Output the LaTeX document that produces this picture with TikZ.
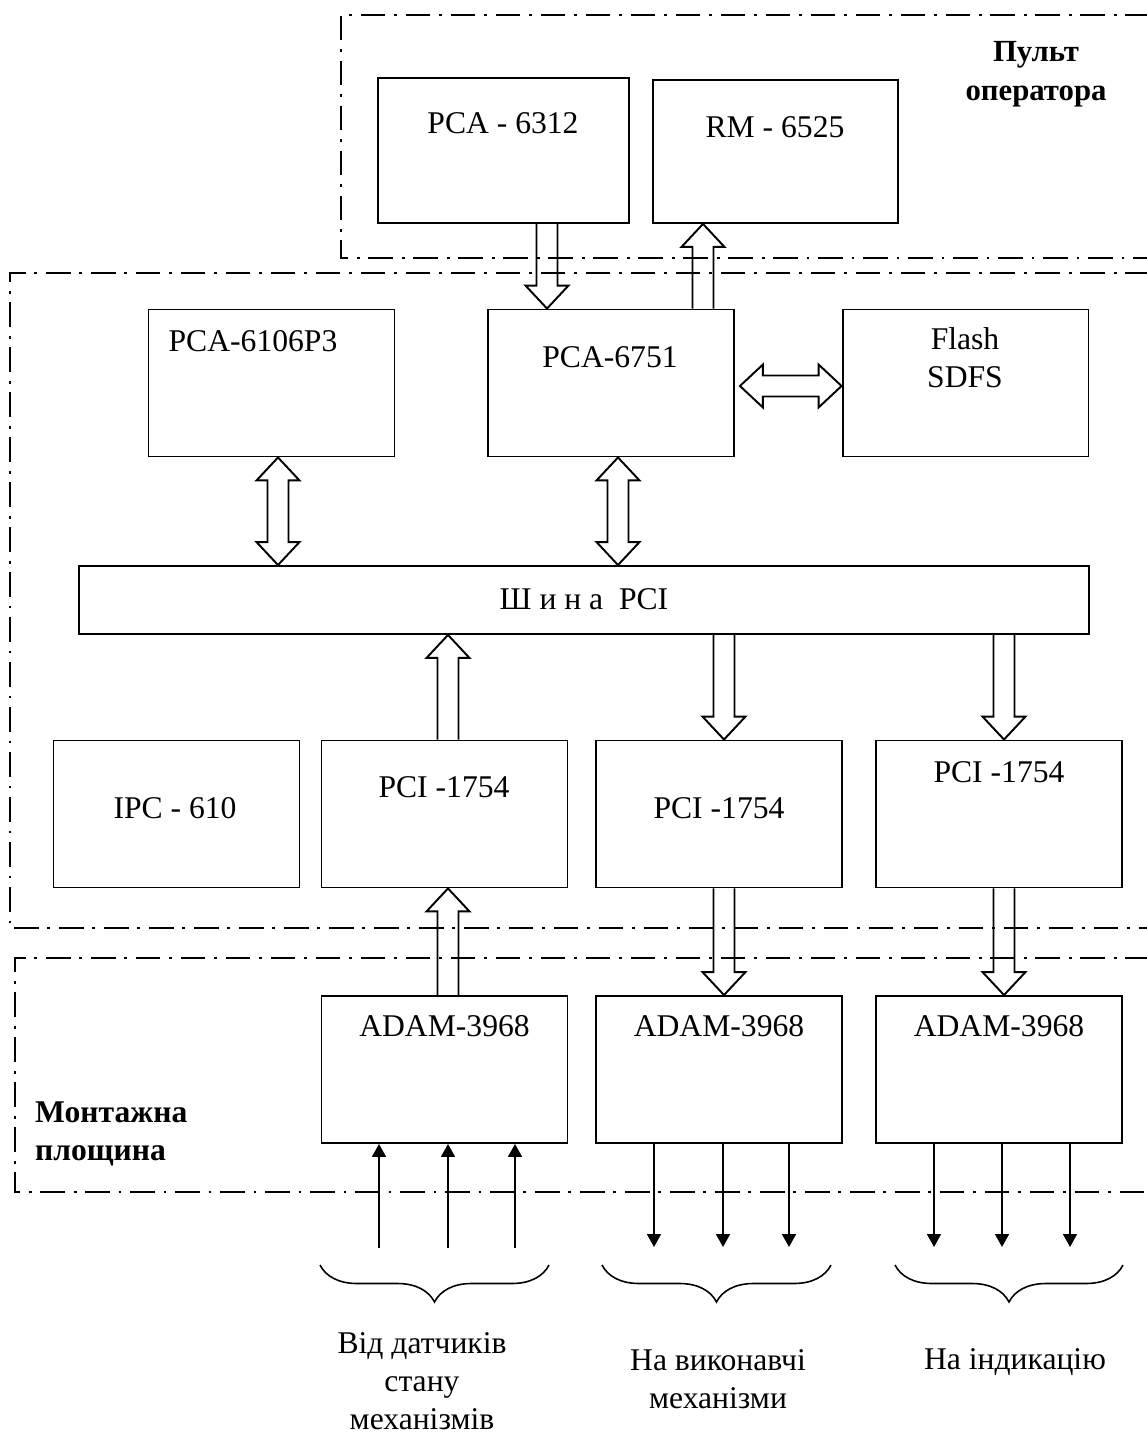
\documentclass[tikz,border=0pt]{standalone}
\usepackage{fontspec}
\setmainfont{Liberation Serif}
\usetikzlibrary{calc,arrows.meta,decorations.pathreplacing}

\begin{document}
\begin{tikzpicture}[x=0.02cm, y=-0.02cm,
    font=\fontsize{18}{21.5}\selectfont,
    blok/.style={draw, line width=1.1pt, minimum width=4.92cm, minimum height=2.94cm},
    region/.style={line width=1pt, dash pattern=on 14pt off 5pt on 1.6pt off 5pt},
    sig/.style={line width=0.9pt, -{Triangle[length=0.26cm, width=0.28cm]}},
    brace/.style={line width=0.9pt, decorate, decoration={brace, mirror, amplitude=0.74cm}},
    % hollow block arrows, one head and two heads
    busone/.style={draw, line width=1.1pt, to path={
        ($(\tikztostart)!0.21cm!90:(\tikztotarget)$)
        -- ($($(\tikztotarget)!0.46cm!(\tikztostart)$)!0.21cm!-90:(\tikztostart)$)
        -- ($($(\tikztotarget)!0.46cm!(\tikztostart)$)!0.43cm!-90:(\tikztostart)$)
        -- (\tikztotarget)
        -- ($($(\tikztotarget)!0.46cm!(\tikztostart)$)!0.43cm!90:(\tikztostart)$)
        -- ($($(\tikztotarget)!0.46cm!(\tikztostart)$)!0.21cm!90:(\tikztostart)$)
        -- ($(\tikztostart)!0.21cm!-90:(\tikztotarget)$)}},
    bustwo/.style={draw, line width=1.1pt, to path={
        (\tikztostart)
        -- ($($(\tikztostart)!0.46cm!(\tikztotarget)$)!0.43cm!90:(\tikztotarget)$)
        -- ($($(\tikztostart)!0.46cm!(\tikztotarget)$)!0.21cm!90:(\tikztotarget)$)
        -- ($($(\tikztotarget)!0.46cm!(\tikztostart)$)!0.21cm!-90:(\tikztostart)$)
        -- ($($(\tikztotarget)!0.46cm!(\tikztostart)$)!0.43cm!-90:(\tikztostart)$)
        -- (\tikztotarget)
        -- ($($(\tikztotarget)!0.46cm!(\tikztostart)$)!0.43cm!90:(\tikztostart)$)
        -- ($($(\tikztotarget)!0.46cm!(\tikztostart)$)!0.21cm!90:(\tikztostart)$)
        -- ($($(\tikztostart)!0.46cm!(\tikztotarget)$)!0.21cm!-90:(\tikztotarget)$)
        -- ($($(\tikztostart)!0.46cm!(\tikztotarget)$)!0.43cm!-90:(\tikztotarget)$)
        -- cycle}}]
    \useasboundingbox (0,0) rectangle (1146,1435);

    % Dash-dot regions
    \draw[region] (1150,15) -- (341,15) -- (341,258) -- (1150,258);
    \draw[region] (1150,273) -- (10,273) -- (10,928) -- (1150,928);
    \draw[region] (1150,958) -- (15,958) -- (15,1192) -- (1150,1192);

    % Operator console
    \node[blok, minimum width=5.02cm, minimum height=2.9cm] (pca6312) at (503.5,150.5) {};
    \node[blok, minimum width=4.9cm, minimum height=2.86cm] (rm6525) at (775.5,151.5) {};
    \node (pca6312txt) at (503,123) {PCA - 6312};
    \node (rm6525txt) at (775,127) {RM - 6525};
    \node[font=\fontsize{17.5}{22}\selectfont\bfseries, align=center] (pult) at (1036,74) {Пульт\\оператора};

    % Computer
    \node[blok] (pca6106) at (271.5,383) {};
    \node[blok] (pca6751) at (611,383) {};
    \node[blok] (flash) at (965.5,383) {};
    \node[blok, minimum width=20.2cm, minimum height=1.36cm] (bus) at (584,600) {};
    \node[blok] (ipc610) at (176.5,814) {};
    \node[blok] (pci1) at (444.5,814) {};
    \node[blok] (pci2) at (719,814) {};
    \node[blok] (pci3) at (999,814) {};
    \node (pca6106txt) at (253,341) {PCA-6106P3};
    \node (pca6751txt) at (610,357) {PCA-6751};
    \node[align=center] (flashtxt) at (965,358) {Flash\\SDFS};
    \node (bustxt) at (584,599) {Ш и н а \ PCI};
    \node (ipc610txt) at (175,808) {IPC - 610};
    \node (pci1txt) at (444,787) {PCI -1754};
    \node (pci2txt) at (719,808) {PCI -1754};
    \node (pci3txt) at (999,772) {PCI -1754};

    % Mounting plate
    \foreach \n in {1,2,3} {
        \node[blok] (adam\n) at ($(pci\n)+(0,255.5)$) {};
        \node (adam\n txt) at ($(adam\n.north)+(0,31)$) {ADAM-3968};
    }
    \node[font=\fontsize{18}{21.5}\selectfont\bfseries, align=left, anchor=west] (plate) at (29,1134) {Монтажна\\площина};

    % Block arrows
    \draw[busone] (547,0 |- pca6312.south) to (547,0 |- pca6751.north);
    \draw[busone] (703,0 |- pca6751.north) to (703,0 |- rm6525.south);
    \draw[bustwo] (278,0 |- pca6106.south) to (278,0 |- bus.north);
    \draw[bustwo] (618,0 |- pca6751.south) to (618,0 |- bus.north);
    \draw[bustwo] ($(pca6751.east |- 0,386)+(5,0)$) to (flash.west |- 0,386);
    \draw[busone] (448,0 |- pci1.north) to (448,0 |- bus.south);
    \draw[busone] (448,0 |- adam1.north) to (448,0 |- pci1.south);
    \foreach \x/\n in {724/2,1004/3} {
        \draw[busone] (\x,0 |- bus.south) to (\x,0 |- pci\n.north);
        \draw[busone] (\x,0 |- pci\n.south) to (\x,0 |- adam\n.north);
    }

    % Signal lines
    \foreach \x [count=\i] in {379,448,515} {
        \coordinate (in\i) at (\x,1248);
        \draw[sig] (in\i) -- (in\i |- adam1.south);
    }
    \foreach \x [count=\i] in {654,723,789} {
        \coordinate (act\i) at (\x,1247);
        \draw[sig] (act\i |- adam2.south) -- (act\i);
    }
    \foreach \x [count=\i] in {934,1002,1070} {
        \coordinate (ind\i) at (\x,1247);
        \draw[sig] (ind\i |- adam3.south) -- (ind\i);
    }

    % Braces and captions
    \draw[brace] (320,1265) -- (549,1265);
    \draw[brace] (602,1265) -- (831,1265);
    \draw[brace] (895,1265) -- (1123,1265);
    \node[align=center, inner sep=2pt] (sensors) at (422,1381) {Від датчиків\\стану\\механізмів};
    \node[align=center] (actuators) at (718,1379) {На виконавчі\\механізми};
    \node (indication) at (1015,1362) {На індикацію};
\end{tikzpicture}
\end{document}
